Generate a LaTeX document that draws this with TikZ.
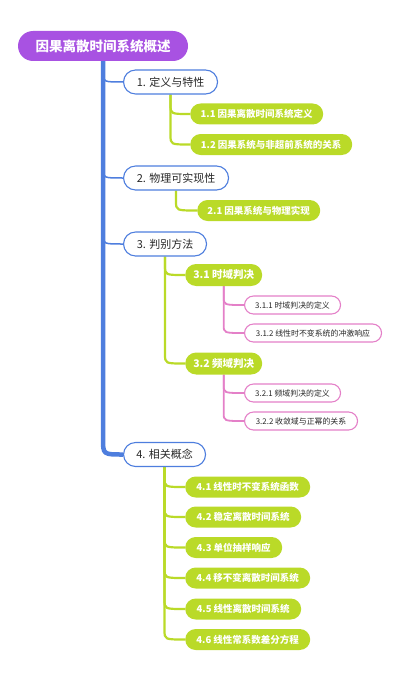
\documentclass[tikz,border=0pt]{standalone}
\usepackage{fontspec}
\setmainfont{Noto Sans CJK SC}
\usetikzlibrary{calc,backgrounds}
\definecolor{rootc}{RGB}{168,82,226}
\definecolor{bluec}{RGB}{78,126,222}
\definecolor{greenc}{RGB}{186,218,40}
\definecolor{pinkc}{RGB}{228,128,200}
\definecolor{txt}{RGB}{40,40,40}
\tikzset{
  rootbox/.style={fill=rootc, text=white, font=\fontsize{13.5}{16}\selectfont\bfseries,
    rounded corners=15pt, minimum height=30pt, inner xsep=0pt, inner ysep=0pt},
  lonebox/.style={draw=bluec, line width=1.1pt, fill=white, text=txt, font=\fontsize{11}{13}\selectfont,
    rounded corners=12pt, minimum height=24pt, inner xsep=0pt, inner ysep=0pt, anchor=west},
  ltwobox/.style={fill=greenc, text=white, font=\fontsize{9.5}{11}\selectfont\bfseries,
    rounded corners=10.5pt, minimum height=21pt, inner xsep=0pt, inner ysep=0pt, anchor=west},
  bigtwo/.style={font=\fontsize{10.5}{12}\selectfont\bfseries, minimum height=22pt, rounded corners=11pt},
  lthreebox/.style={draw=pinkc, line width=1.1pt, fill=white, text=txt, font=\fontsize{7.9}{9}\selectfont,
    rounded corners=9pt, minimum height=18pt, inner xsep=0pt, inner ysep=0pt, anchor=west},
  trunk/.style={draw=bluec, line width=4.5pt},
  bbr/.style={draw=bluec, line width=1.5pt},
  gbr/.style={draw=greenc, line width=2.2pt},
  pbr/.style={draw=pinkc, line width=1.8pt},
}
\begin{document}
\begin{tikzpicture}[x=1pt,y=-1pt]
\useasboundingbox (0,0) rectangle (400,682);
% nodes
\node[rootbox, minimum width=170pt] (root) at (103,46) {因果离散时间系统概述};

\node[lonebox, minimum width=94pt] (n1) at (123,82) {1. 定义与特性};
\node[lonebox, minimum width=105pt] (n2) at (123,178) {2. 物理可实现性};
\node[lonebox, minimum width=83pt] (n3) at (123,244) {3. 判别方法};
\node[lonebox, minimum width=82pt] (n4) at (123,454.5) {4. 相关概念};

\node[ltwobox, minimum width=133pt] (c11) at (190,114) {1.1 因果离散时间系统定义};
\node[ltwobox, minimum width=162pt] (c12) at (190,144.5) {1.2 因果系统与非超前系统的关系};
\node[ltwobox, minimum width=123pt] (c21) at (197,210.5) {2.1 因果系统与物理实现};
\node[ltwobox, bigtwo, minimum width=77pt] (c31) at (185,275) {3.1 时域判决};
\node[ltwobox, bigtwo, minimum width=77pt] (c32) at (185,363.5) {3.2 频域判决};

\node[lthreebox, minimum width=96pt] (d311) at (244,305) {3.1.1 时域判决的定义};
\node[lthreebox, minimum width=137pt] (d312) at (244,333) {3.1.2 线性时不变系统的冲激响应};
\node[lthreebox, minimum width=96pt] (d321) at (244,393) {3.2.1 频域判决的定义};
\node[lthreebox, minimum width=113pt] (d322) at (244,421) {3.2.2 收敛域与正幂的关系};

\node[ltwobox, minimum width=125pt] (c41) at (185,487) {4.1 线性时不变系统函数};
\node[ltwobox, minimum width=116pt] (c42) at (185,517) {4.2 稳定离散时间系统};
\node[ltwobox, minimum width=97pt] (c43) at (185,547.5) {4.3 单位抽样响应};
\node[ltwobox, minimum width=125pt] (c44) at (185,578) {4.4 移不变离散时间系统};
\node[ltwobox, minimum width=116pt] (c45) at (185,609) {4.5 线性离散时间系统};
\node[ltwobox, minimum width=125pt] (c46) at (185,639.5) {4.6 线性常系数差分方程};

% connectors
\begin{scope}[on background layer]
\draw[trunk] (root.south) -- ($(root.south |- n4.west)+(0,-16)$) .. controls (root.south |- n4.west) .. (n4.west);
\foreach \c in {n1,n2,n3}
  \draw[bbr] ($(root.south |- \c.west)+(0,-10)$) .. controls (root.south |- \c.west) .. (\c.west);

\foreach \p/\c in {n1/c11,n1/c12,n2/c21,n3/c31,n3/c32,n4/c41,n4/c42,n4/c43,n4/c44,n4/c45,n4/c46}
  \draw[gbr] (\p.south) -- ($(\p.south |- \c.west)+(0,-9)$) .. controls (\p.south |- \c.west) .. (\c.west);

\foreach \p/\c in {c31/d311,c31/d312,c32/d321,c32/d322}
  \draw[pbr] (\p.south) -- ($(\p.south |- \c.west)+(0,-8)$) .. controls (\p.south |- \c.west) .. (\c.west);
\end{scope}
\end{tikzpicture}
\end{document}
